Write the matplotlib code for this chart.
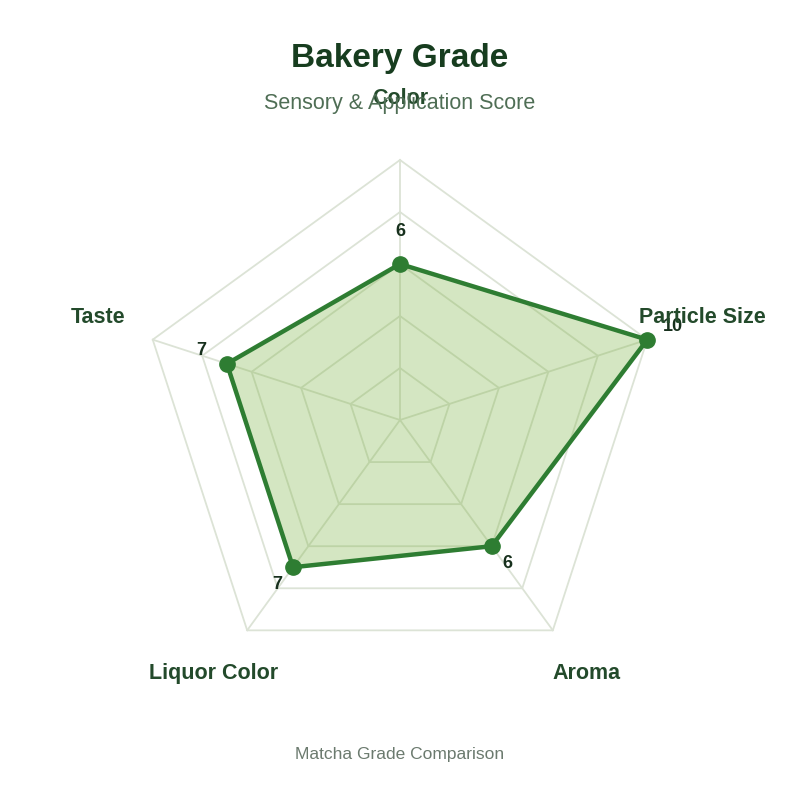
import numpy as np
import matplotlib

matplotlib.use("Agg")

import matplotlib.pyplot as plt  # noqa: E402

plt.rcParams["font.family"] = ["Liberation Sans", "DejaVu Sans"]

# chart data
categories = ["Color", "Particle Size", "Aroma", "Liquor Color", "Taste"]
scores = [6, 10, 6, 7, 7]
grid_levels = [2, 4, 6, 8, 10]
max_score = 10

title = "Bakery Grade"
subtitle = "Sensory & Application Score"
footer = "Matcha Grade Comparison"

line_color = "#2e7d32"
fill_color = "#7cb342"
grid_color = "#dce3d6"
label_color = "#234a2b"
value_color = "#17301d"
title_color = "#173d1f"

n = len(categories)
angles = np.linspace(0, 2 * np.pi, n, endpoint=False)
closed_angles = np.concatenate([angles, angles[:1]])

fig = plt.figure(figsize=(8, 8), dpi=100)
ax = fig.add_axes([0.175, 0.15, 0.65, 0.65], projection="polar")
ax.set_theta_offset(np.pi / 2)
ax.set_theta_direction(-1)
ax.set_ylim(0, max_score)
ax.axis("off")

# pentagon grid and spokes
for level in grid_levels:
    ax.plot(closed_angles, [level] * (n + 1), color=grid_color, linewidth=1.3,
            zorder=1, clip_on=False)
for a in angles:
    ax.plot([a, a], [0, max_score], color=grid_color, linewidth=1.3, zorder=1,
            clip_on=False)

closed_scores = scores + scores[:1]
ax.fill(closed_angles, closed_scores, color=fill_color, alpha=0.32, linewidth=0,
        zorder=2, clip_on=False)
ax.plot(closed_angles, closed_scores, color=line_color, linewidth=3.2, zorder=3,
        clip_on=False)
ax.plot(angles, scores, "o", color=line_color, markersize=11, zorder=4,
        clip_on=False)


def screen_dir(a):
    # screen angle of a category direction (clockwise from top)
    s = np.pi / 2 - a
    return np.cos(s), np.sin(s)


for a, v in zip(angles, scores):
    dx, dy = screen_dir(a)
    ax.annotate(
        str(v),
        xy=(a, v),
        xytext=(27 * dx, 27 * dy + 5),
        textcoords="offset pixels",
        ha="center",
        va="center",
        fontsize=13,
        fontweight="bold",
        color=value_color,
        zorder=5,
        annotation_clip=False,
    )

for a, name in zip(angles, categories):
    dx, dy = screen_dir(a)
    ax.annotate(
        name,
        xy=(a, max_score),
        xytext=(58 * dx, 58 * dy + 4),
        textcoords="offset pixels",
        ha="center",
        va="center",
        fontsize=15.5,
        fontweight="bold",
        color=label_color,
        zorder=6,
        annotation_clip=False,
    )

fig.text(0.5, 1 - 58 / 800, title, ha="center", va="center",
         fontsize=24, fontweight="bold", color=title_color)
fig.text(0.5, 1 - 104 / 800, subtitle, ha="center", va="center",
         fontsize=15.5, color="#4f6e55")
fig.text(0.5, 1 - 754 / 800, footer, ha="center", va="center",
         fontsize=12.5, color="#6b7a6e")

fig.savefig("out.png", dpi=100, facecolor="white")
